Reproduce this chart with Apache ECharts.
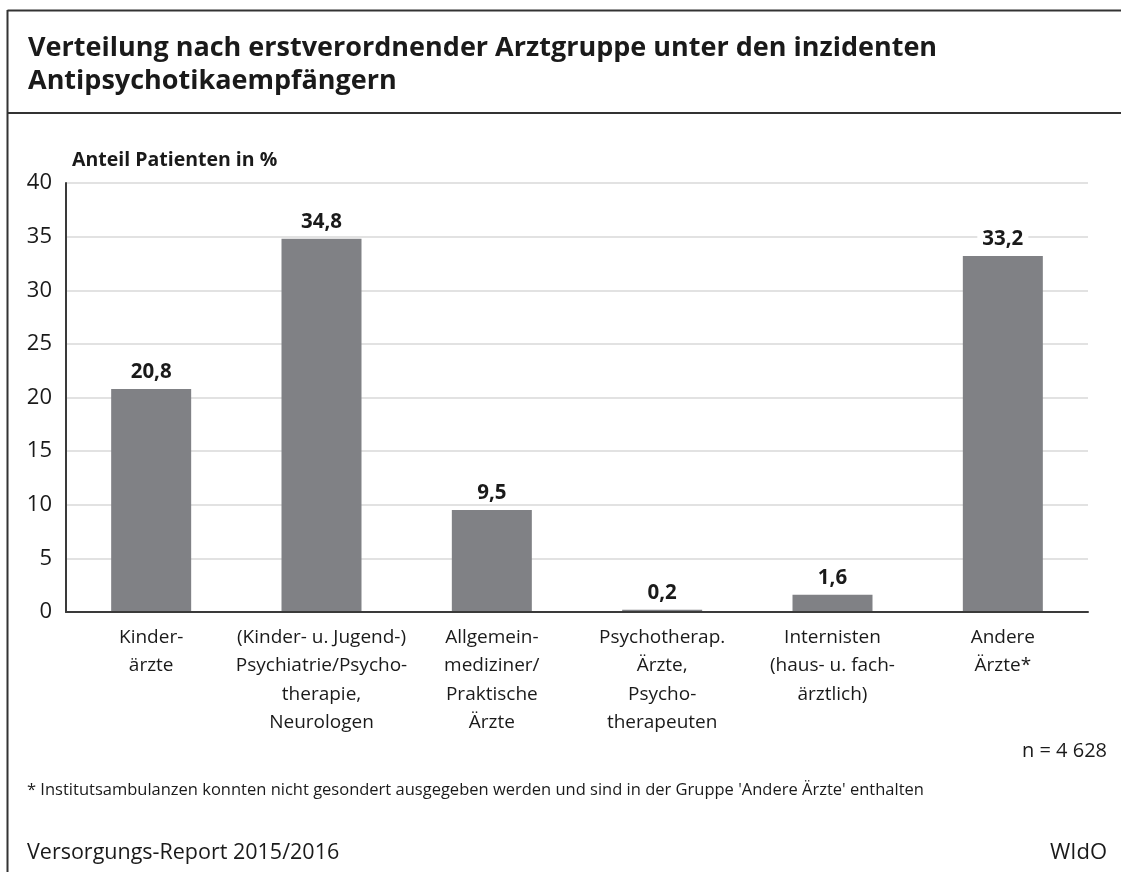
<!DOCTYPE html>
<html>
<head>
<meta charset="utf-8">
<script src="https://cdn.jsdelivr.net/npm/echarts@6/dist/echarts.min.js"></script>
<style>
  html, body { margin: 0; padding: 0; background: #fff; }
  #chart { width: 1121px; height: 872px; }
</style>
</head>
<body>
<div id="chart"></div>
<script>
// Daten
var categories = [
  'Kinder-\närzte',
  '(Kinder- u. Jugend-)\nPsychiatrie/Psycho-\ntherapie,\nNeurologen',
  'Allgemein-\nmediziner/\nPraktische\nÄrzte',
  'Psychotherap.\nÄrzte,\nPsycho-\ntherapeuten',
  'Internisten\n(haus- u. fach-\närztlich)',
  'Andere\nÄrzte*'
];
var anteil = [20.8, 34.8, 9.5, 0.2, 1.6, 33.2];
var yTicks = [0, 5, 10, 15, 20, 25, 30, 35, 40];

var FONT = 'Open Sans';
var chart = echarts.init(document.getElementById('chart'));

var option = {
  backgroundColor: '#fff',
  animation: false,
  title: {
    text: 'Verteilung nach erstverordnender Arztgruppe unter den inzidenten\nAntipsychotikaempfängern',
    left: 23,
    top: 27,
    textStyle: { fontFamily: FONT, fontWeight: 'bold', fontSize: 27, lineHeight: 33, color: '#1a1a1a' }
  },
  grid: { left: 66, right: 33, top: 183, bottom: 260 },
  xAxis: {
    type: 'category',
    data: categories,
    z: 3,
    axisLine: { lineStyle: { color: '#3a3a3a', width: 2 } },
    axisTick: { show: false },
    axisLabel: {
      interval: 0, margin: 11, color: '#1a1a1a',
      fontFamily: FONT, fontSize: 19, lineHeight: 28.5
    }
  },
  yAxis: {
    type: 'value',
    min: yTicks[0],
    max: yTicks[yTicks.length - 1],
    interval: 5,
    axisLine: { show: true, lineStyle: { color: '#3a3a3a', width: 2 } },
    axisTick: { show: false },
    axisLabel: { margin: 14, color: '#1a1a1a', fontFamily: FONT, fontSize: 22 },
    splitLine: { lineStyle: { color: '#d9d9d9', width: 1.5 } }
  },
  series: [{
    name: 'Anteil Patienten in %',
    type: 'bar',
    data: anteil,
    barWidth: 80,
    itemStyle: { color: '#808185' },
    label: {
      show: true,
      position: 'top',
      distance: 6,
      formatter: function (p) { return String(p.value).replace('.', ','); },
      fontFamily: FONT, fontWeight: 'bold', fontSize: 20.5, color: '#1a1a1a',
      backgroundColor: '#fff', padding: [0, 5]
    }
  }],
  graphic: [
    // Rahmen
    { type: 'line', shape: { x1: 7.5, y1: 10.5, x2: 1121, y2: 10.5 }, style: { stroke: '#333', lineWidth: 2 } },
    { type: 'line', shape: { x1: 7.5, y1: 10, x2: 7.5, y2: 872 }, style: { stroke: '#333', lineWidth: 2 } },
    { type: 'line', shape: { x1: 7.5, y1: 113, x2: 1121, y2: 113 }, style: { stroke: '#333', lineWidth: 2 } },
    { type: 'text', left: 72, top: 150, style: { text: 'Anteil Patienten in %', fontFamily: FONT, fontWeight: 'bold', fontSize: 19.5, fill: '#1a1a1a' } },
    { type: 'text', right: 14, top: 741, style: { text: 'n = 4 628', fontFamily: FONT, fontSize: 20, fill: '#1a1a1a' } },
    { type: 'text', left: 27, top: 782, style: { text: "* Institutsambulanzen konnten nicht gesondert ausgegeben werden und sind in der Gruppe 'Andere Ärzte' enthalten", fontFamily: FONT, fontSize: 16.5, fill: '#1a1a1a' } },
    { type: 'text', left: 27, top: 842, style: { text: 'Versorgungs-Report 2015/2016', fontFamily: FONT, fontSize: 21.5, fill: '#1a1a1a' } },
    { type: 'text', right: 14, top: 842, style: { text: 'WIdO', fontFamily: FONT, fontSize: 22, fill: '#1a1a1a' } }
  ]
};

chart.setOption(option);
</script>
</body>
</html>
